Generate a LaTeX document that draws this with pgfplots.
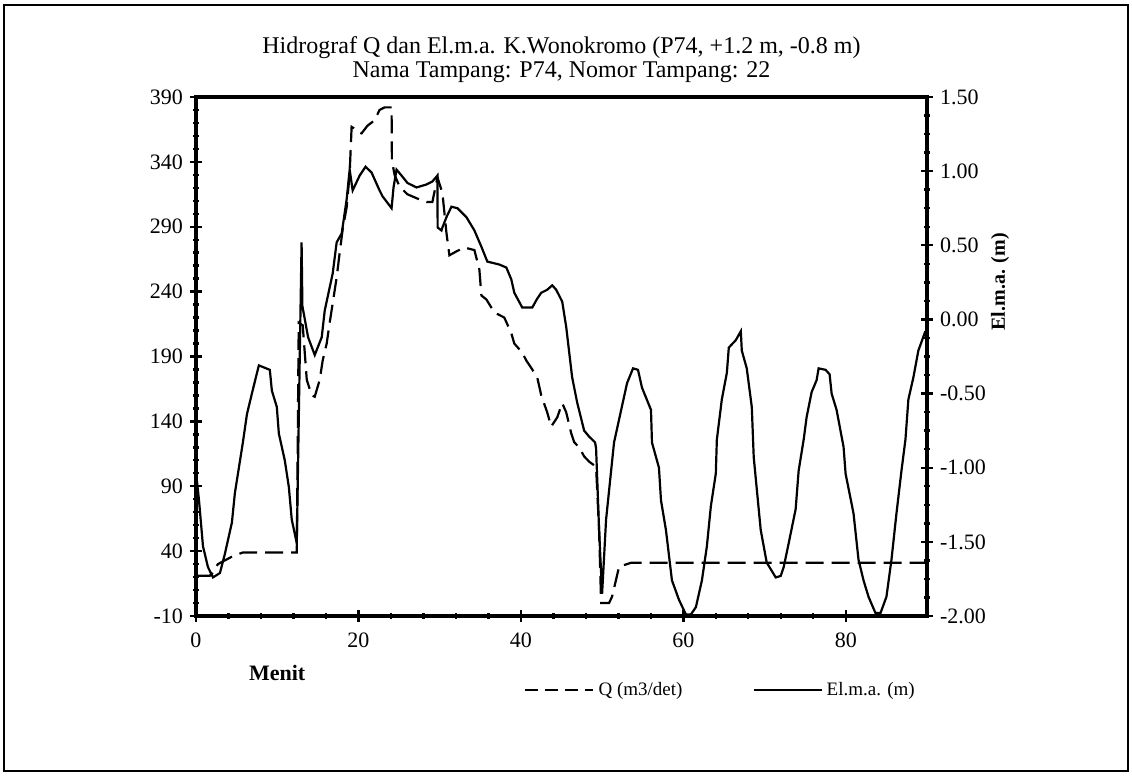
\documentclass[border=0pt]{standalone}
\usepackage{fontspec}
\setmainfont{Liberation Serif}
\usepackage{pgfplots}
\pgfplotsset{compat=1.18}

\pgfplotstableread{
t Q
0 21
1.7 21
2.0 23
2.7 30
3.3 32
4.5 36
5.8 39
12.41 39
12.65 216
13.14 214
13.64 172
14.25 160
14.62 159
15.23 172
15.60 187
16.09 200
16.46 216
16.83 231
17.32 251
17.69 270
18.06 288
18.55 305
18.92 331
19.04 349
19.16 367
19.41 366
19.90 363
20.39 362
21.13 368
21.99 372
22.60 380
23.22 382
24.08 382
24.12 341
24.45 330
25.06 321
26.04 315
27.15 312
28.38 309
29.1 309
29.73 328
30.34 316
30.84 285
31.20 268
32.06 271
33.05 274
34.28 272
34.89 257
35.14 237
35.75 234
36.73 224
37.96 220
38.82 208
39.19 200
40.17 193
40.66 187
41.40 180
42.01 174
42.51 160
43.24 147
43.73 136
44.47 143
45.09 154
45.58 147
46.19 131
46.56 124
47.17 120
47.79 113
48.40 109
49.26 105
49.63 56
49.88 0
50.86 0
51.23 5
51.72 18
52.09 28
53.56 31
90 31
}\qdata

\pgfplotstableread{
t E
0 -1.03
0.37 -1.22
0.86 -1.53
1.47 -1.67
2.09 -1.74
2.95 -1.71
3.56 -1.58
4.42 -1.37
4.79 -1.17
5.77 -0.83
6.27 -0.64
6.88 -0.50
7.74 -0.31
9.09 -0.34
9.34 -0.48
9.95 -0.59
10.20 -0.77
10.93 -0.95
11.43 -1.13
11.79 -1.35
12.41 -1.51
13.0 0.52
13.1 0.09
13.8 -0.12
14.62 -0.24
15.48 -0.12
15.85 0.06
16.83 0.31
17.32 0.52
17.94 0.58
18.55 0.81
18.92 1.01
19.29 0.87
20.15 0.97
20.88 1.03
21.62 0.99
22.60 0.87
22.97 0.83
24.08 0.75
24.32 0.89
24.69 1.01
25.31 0.97
26.04 0.92
27.15 0.89
28.38 0.91
29.1 0.93
29.73 0.97
29.75 0.62
30.22 0.60
30.34 0.62
30.84 0.69
31.45 0.76
32.19 0.75
33.29 0.69
34.28 0.60
35.14 0.49
35.87 0.39
37.35 0.37
38.21 0.35
38.82 0.27
39.19 0.18
40.17 0.08
41.40 0.08
42.01 0.14
42.51 0.18
43.24 0.20
43.86 0.23
44.35 0.20
45.09 0.12
45.58 -0.05
46.31 -0.39
46.93 -0.56
47.79 -0.75
48.40 -0.79
49.14 -0.83
49.26 -0.87
49.63 -1.42
50.0 -1.85
50.49 -1.35
51.47 -0.83
53.07 -0.43
53.81 -0.33
54.42 -0.34
54.91 -0.46
56.02 -0.61
56.14 -0.83
57.00 -1.00
57.25 -1.22
57.86 -1.42
58.60 -1.76
59.46 -1.89
60.32 -1.99
60.93 -1.99
61.55 -1.94
62.29 -1.76
62.90 -1.53
63.39 -1.26
64.00 -1.04
64.13 -0.81
64.74 -0.54
65.36 -0.36
65.60 -0.19
66.46 -0.14
67.08 -0.08
67.20 -0.21
67.81 -0.33
68.43 -0.59
68.67 -0.93
69.53 -1.42
70.27 -1.64
71.38 -1.74
71.99 -1.73
72.36 -1.67
72.97 -1.51
73.83 -1.28
74.20 -1.02
74.82 -0.81
75.18 -0.66
75.80 -0.49
76.41 -0.41
76.66 -0.33
77.52 -0.34
78.01 -0.37
78.26 -0.50
78.87 -0.61
79.73 -0.86
79.98 -1.04
80.96 -1.31
81.57 -1.62
82.19 -1.76
82.80 -1.87
83.66 -1.98
84.28 -1.98
85.01 -1.87
85.63 -1.62
86.24 -1.31
86.86 -1.02
87.35 -0.81
87.71 -0.54
88.33 -0.39
88.94 -0.21
89.80 -0.08
}\edata

\pgfplotsset{
  common/.style={
    at={(98pt,80pt)}, anchor=south west,
    scale only axis, width=365.5pt, height=259.5pt,
    xmin=0, xmax=90,
    axis line style={line width=1.6pt},
    tick align=center,
    major tick length=6pt, minor tick length=3pt,
    every tick/.style={black, line width=1.2pt},
    tick label style={font=\fontsize{11}{13}\selectfont},
  },
}

\begin{document}
\begin{tikzpicture}
\useasboundingbox (0,0) rectangle (566pt,388pt);
\draw[line width=1.3pt] (2pt,2.5pt) rectangle (564pt,385.5pt);

\begin{axis}[common,
    xtick pos=bottom, ytick pos=left,
    ymin=-10, ymax=390,
    xtick={0,20,40,60,80}, xticklabels={0,20,40,60,80},
    xticklabel style={yshift=-2pt},
    minor x tick num=4,
    ytick={-10,40,90,140,190,240,290,340,390},
    yticklabels={-10,40,90,140,190,240,290,340,390},
    minor y tick num=4,
    xlabel={\textbf{Menit}},
    x label style={at={(rel axis cs:0.111,0)}, anchor=center, yshift=-28.5pt, font=\fontsize{11}{13}\selectfont},
    title={Hidrograf Q dan El.m.a. K.Wonokromo (P74, +1.2 m, -0.8 m)\\Nama Tampang: P74, Nomor Tampang: 22},
    title style={at={(rel axis cs:0.5,1)}, anchor=center, yshift=12.75pt, align=center,
      font=\fontsize{12}{12}\selectfont},
    legend columns=2,
    legend style={at={(rel axis cs:0.719,0)}, anchor=center, yshift=-37pt, draw=none, fill=none,
      font=\fontsize{9.5}{12}\selectfont,
      /tikz/every even column/.append style={column sep=33pt}},
  ]
\addplot[black, line width=1.1pt, dash pattern=on 9pt off 4pt,
  legend image code/.code={\draw[black, line width=1.1pt, dash pattern=on 6.5pt off 3.5pt] (0pt,0pt) -- (34pt,0pt);}]
  table[x=t, y=Q] {\qdata};
\addlegendentry{Q (m3/det)}
\addlegendimage{black, line width=1.1pt,
  legend image code/.code={\draw[black, line width=1.1pt] (0pt,0pt) -- (34pt,0pt);}}
\addlegendentry{El.m.a. (m)}
\end{axis}

\begin{axis}[common,
    axis x line=none, axis y line*=right,
    ymin=-2, ymax=1.5,
    ytick={-2,-1.5,-1,-0.5,0,0.5,1,1.5},
    yticklabels={-2.00,-1.50,-1.00,-0.50,0.00,0.50,1.00,1.50},
    minor y tick num=3,
    ylabel={\textbf{El.m.a. (m)}},
    y label style={at={(rel axis cs:1,0.644)}, anchor=center, yshift=-36.5pt, font=\fontsize{10}{12}\selectfont},
  ]
\addplot[black, line width=1.1pt] table[x=t, y=E] {\edata};
\end{axis}
\end{tikzpicture}
\end{document}
